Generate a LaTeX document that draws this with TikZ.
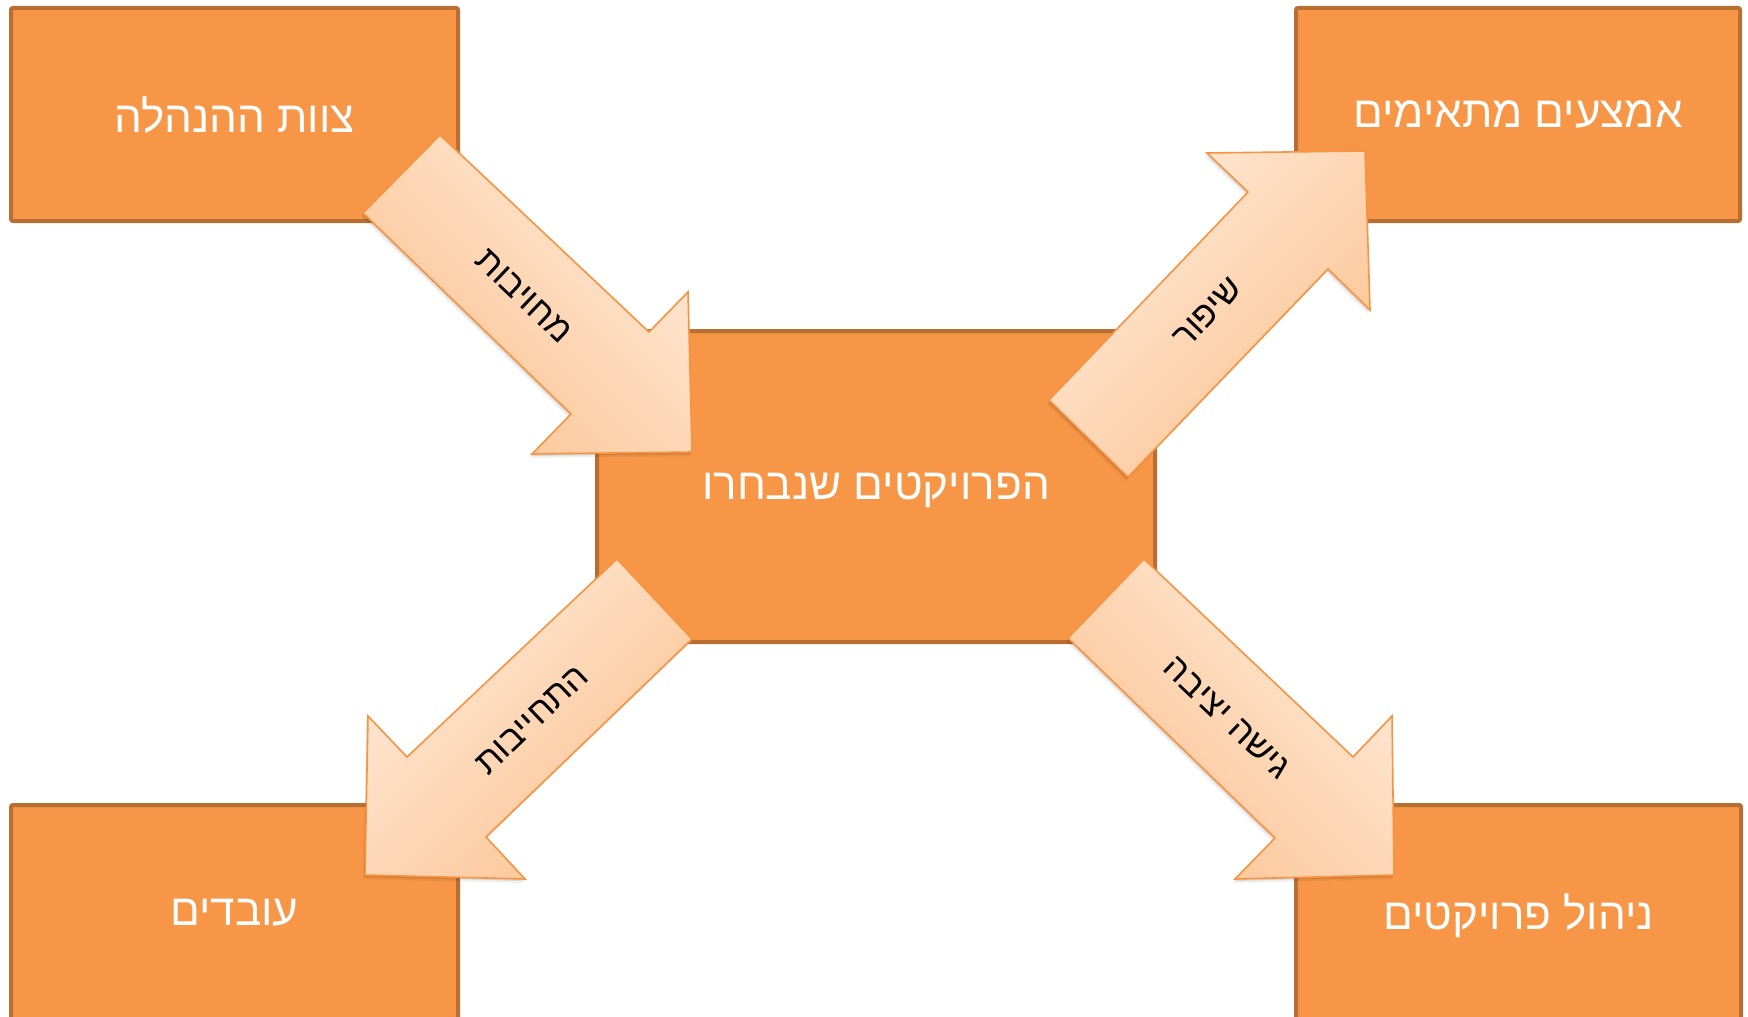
\documentclass[tikz,border=0pt]{standalone}
\usepackage{fontspec}
\newfontfamily\heb[Script=Hebrew]{Liberation Sans}
\TeXXeTstate=1
\definecolor{boxfill}{RGB}{247,150,70}
\definecolor{boxline}{RGB}{184,111,50}
\definecolor{arrlight}{RGB}{254,234,216}
\definecolor{arrdark}{RGB}{252,195,146}
\definecolor{arrline}{RGB}{246,148,66}
\begin{document}
\begin{tikzpicture}[x=0.5pt,y=-0.5pt,
  boxstyle/.style={draw=boxline, line width=2pt, fill=boxfill, rounded corners=1pt,
    inner sep=0pt, text depth=0pt, text=white, font=\heb\fontsize{22}{26}\selectfont},
  arrowshape/.style={draw=arrline, line width=0.8pt, line join=miter,
    preaction={fill=black, opacity=0.06, transform canvas={xshift=-1pt, yshift=-2pt}},
    preaction={fill=black, opacity=0.10, transform canvas={xshift=-0.5pt, yshift=-1pt}}},
  arrowtext/.style={text=black, inner sep=0pt, font=\heb\fontsize{17.5}{21}\selectfont}]
\useasboundingbox (0,0) rectangle (1748,1016);
\fill[white] (0,0) rectangle (1748,1016);

% boxes
\node[boxstyle, minimum width=223.5pt, minimum height=106.5pt] (mgmt) at (234.5,114.5) {\beginR צוות ההנהלה\endR};
\node[boxstyle, minimum width=222pt, minimum height=106.5pt] (means) at (1518,114.5) {\beginR אמצעים מתאימים\endR};
\node[boxstyle, minimum width=223.5pt, minimum height=107pt] (workers) at (234.5,912) {\beginR עובדים\endR};
\node[boxstyle, minimum width=222.5pt, minimum height=107pt] (pm) at (1518.5,912) {\beginR ניהול פרויקטים\endR};
\node[boxstyle, minimum width=279pt, minimum height=155.5pt] (proj) at (876,486.5) {\beginR הפרויקטים שנבחרו\endR};

% block arrows
\draw[arrowshape, top color=arrlight, bottom color=arrdark, shading angle=-45]
  (440,135) -- (649,332) -- (688,292) -- (692,452) -- (532,454) -- (571,414) -- (363,213) -- cycle;
\draw[arrowshape, top color=arrlight, bottom color=arrdark, shading angle=45]
  (1128,477) -- (1049,400) -- (1248,192) -- (1207,153) -- (1365,151) -- (1370,310) -- (1328,269) -- cycle;
\draw[arrowshape, top color=arrlight, bottom color=arrdark, shading angle=45]
  (617,559) -- (692,639) -- (486,837) -- (525,879) -- (365,875) -- (368,716) -- (407,757) -- cycle;
\draw[arrowshape, top color=arrlight, bottom color=arrdark, shading angle=-45]
  (1144,559) -- (1068,638) -- (1275,838) -- (1235,879) -- (1394,875) -- (1392,716) -- (1353,757) -- cycle;

% arrow labels
\node[arrowtext, rotate=-43.7] (l1) at (524,296) {\beginR מחויבות\endR};
\node[arrowtext, rotate=46] (l2) at (1208,313) {\beginR שיפור\endR};
\node[arrowtext, rotate=43.6] (l3) at (532,720) {\beginR התחייבות\endR};
\node[arrowtext, rotate=-43.7] (l4) at (1227,718) {\beginR גישה יציבה\endR};
\end{tikzpicture}
\end{document}
